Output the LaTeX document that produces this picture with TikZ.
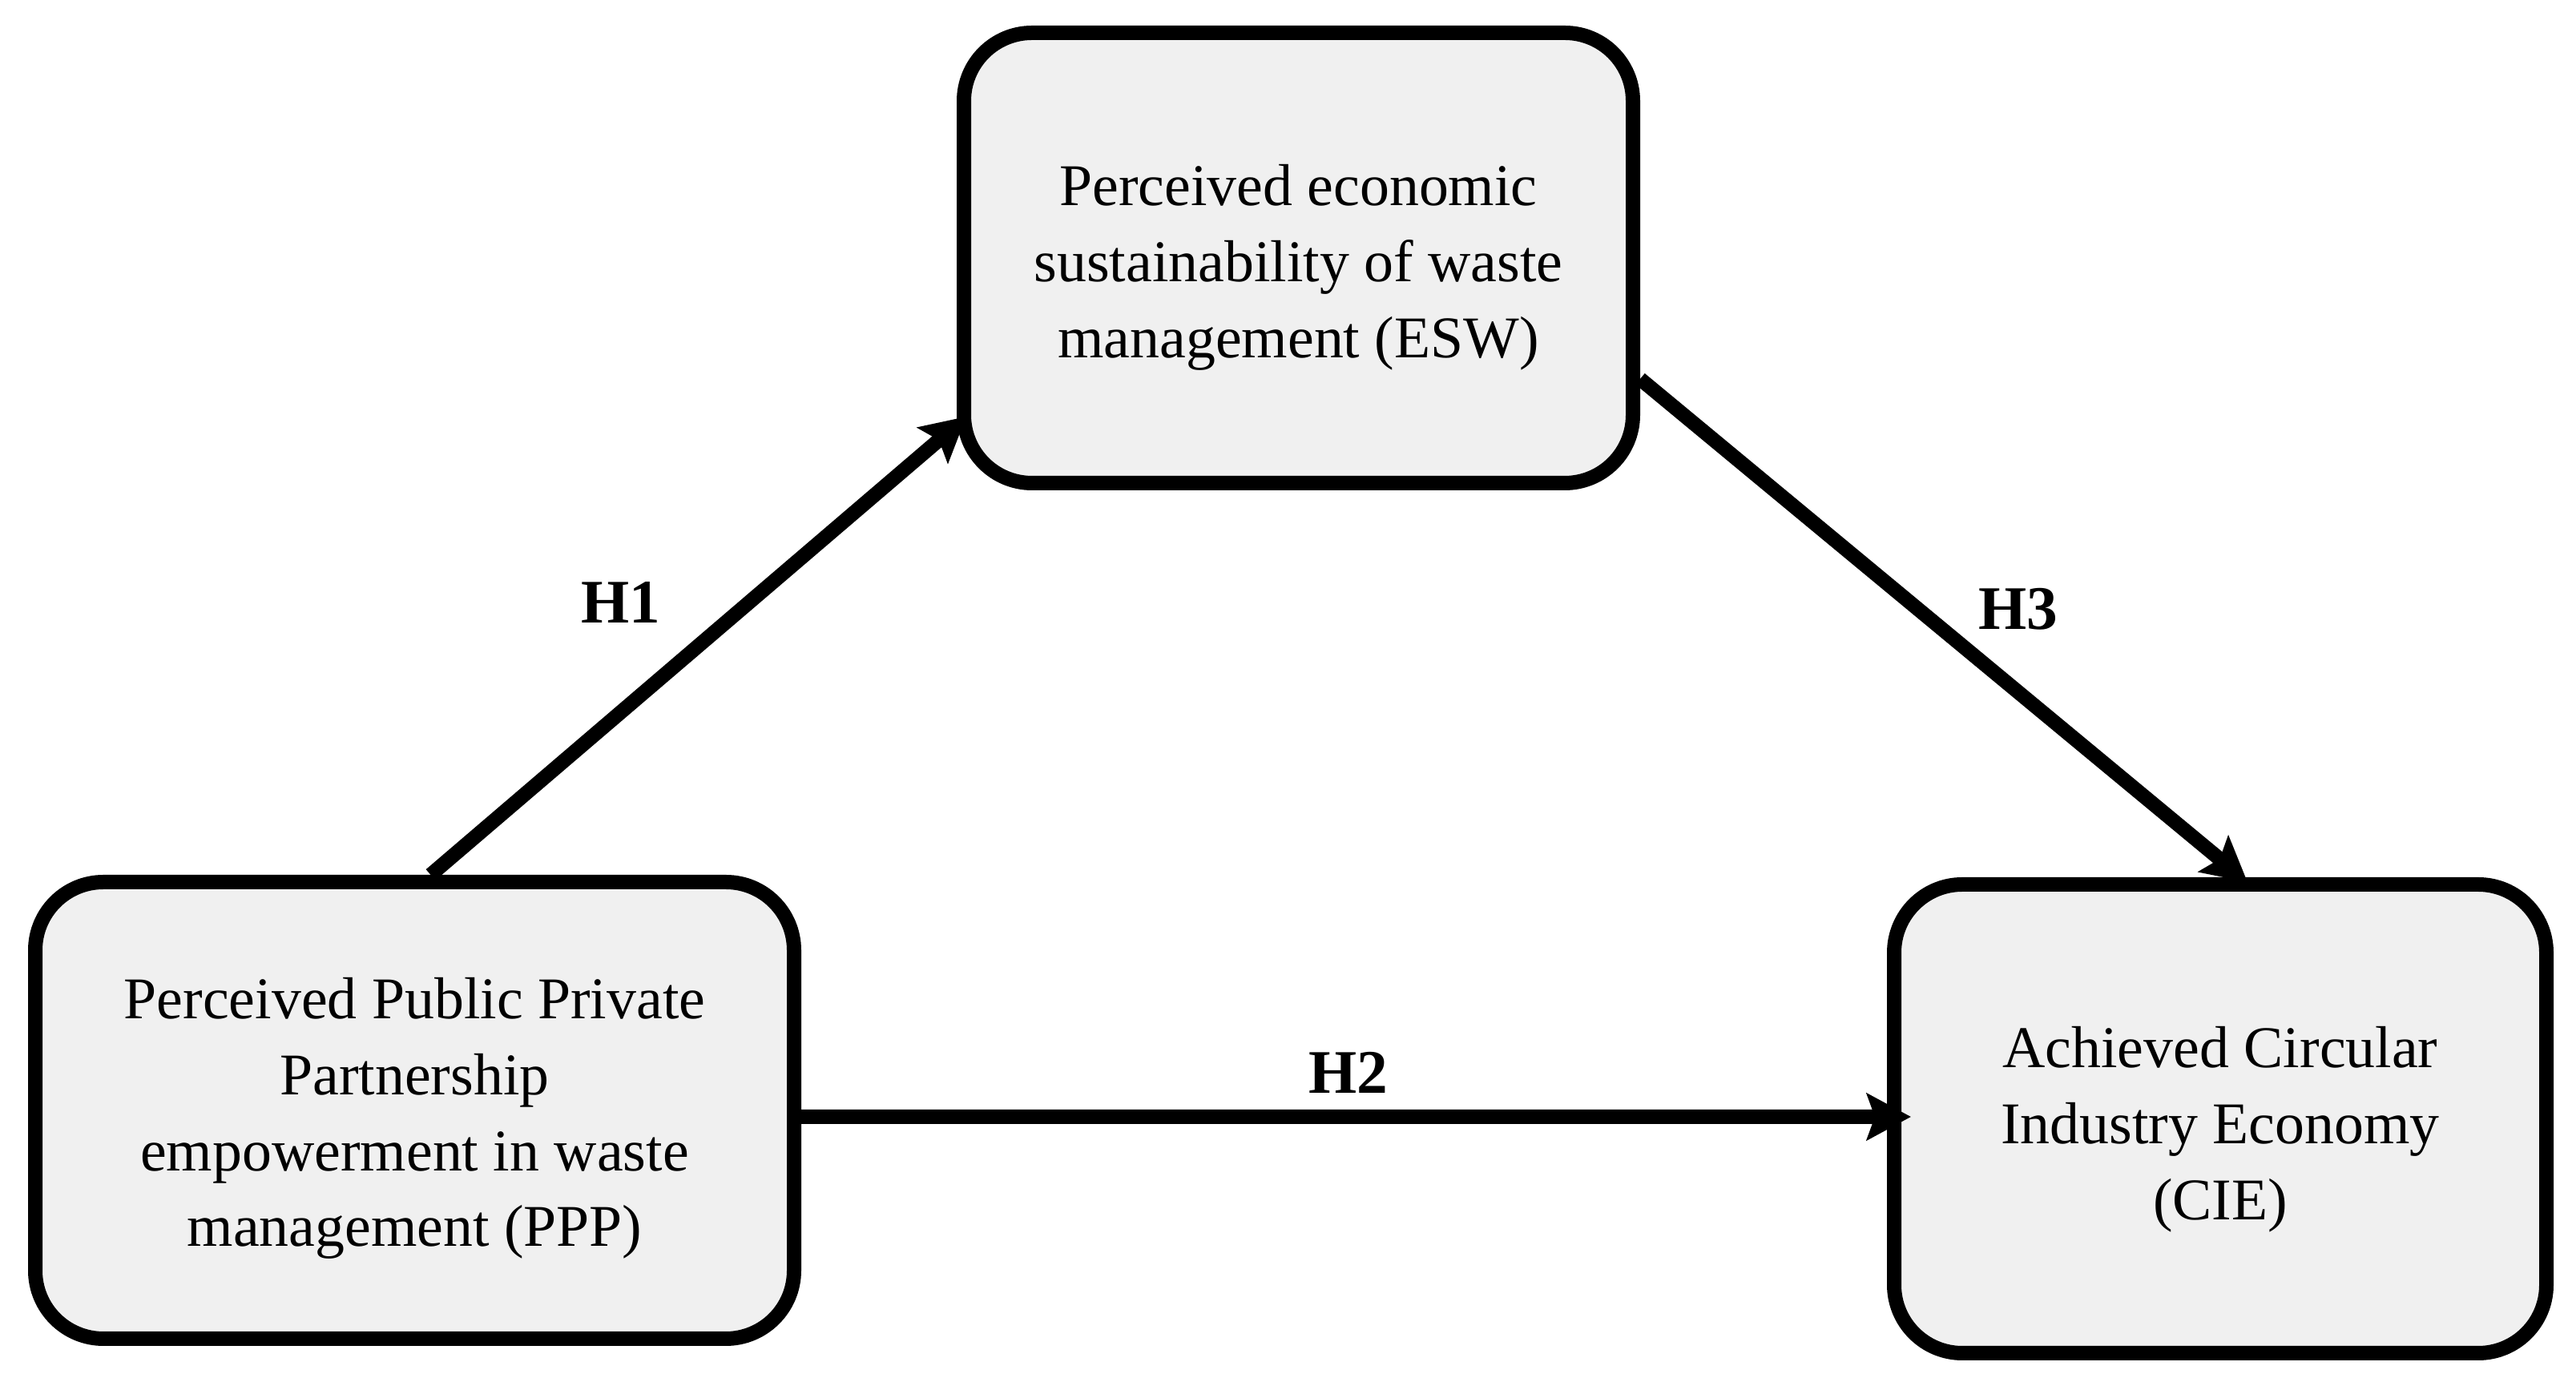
\documentclass[tikz,border=0pt]{standalone}
\usepackage{fontspec}
\setmainfont{Liberation Serif}
\usetikzlibrary{arrows.meta}
\definecolor{boxfill}{HTML}{F0F0F0}
\tikzset{
  conceptbox/.style={draw=black, fill=boxfill, line width=0.18cm, rounded corners=0.85cm, inner sep=0pt},
  boxtext/.style={align=center, inner sep=0pt, font=\fontsize{21}{27}\selectfont},
  hypo/.style={font=\fontsize{22}{26}\selectfont\bfseries, inner sep=0pt},
  link/.style={line width=0.18cm, -{Stealth[length=0.55cm, width=0.58cm, inset=0.1cm]}}
}
\begin{document}
\begin{tikzpicture}
\useasboundingbox (0,0) rectangle (32.15,17.35);
\node[conceptbox, minimum width=8.35cm, minimum height=5.62cm] (esw) at (16.205,14.13) {};
\node[conceptbox, minimum width=9.47cm, minimum height=5.70cm] (ppp) at (5.175,3.49) {};
\node[conceptbox, minimum width=8.14cm, minimum height=5.85cm] (cie) at (27.71,3.385) {};
\node[boxtext] (eswtext) at ([yshift=-0.12cm]esw.center)
  {Perceived economic\\sustainability of waste\\management (ESW)};
\node[boxtext] (ppptext) at ([yshift=-0.1cm]ppp.center)
  {Perceived Public Private\\Partnership\\empowerment in waste\\management (PPP)};
\node[boxtext] (cietext) at ([yshift=-0.13cm]cie.center)
  {Achieved Circular\\Industry Economy\\(CIE)};
\draw[link] ([xshift=0.2cm]ppp.north) -- ([yshift=-1.98cm, xshift=0.12cm]esw.west);
\draw[link] ([yshift=-1.51cm]esw.east) -- ([xshift=0.34cm, yshift=-0.06cm]cie.north);
\draw[link] ([yshift=-0.08cm]ppp.east) -- ([xshift=0.3cm, yshift=0.025cm]cie.west);
\node[hypo] (h1) at (7.75,9.83) {H1};
\node[hypo] (h3) at (25.19,9.75) {H3};
\node[hypo] (h2) at (16.83,3.96) {H2};
\end{tikzpicture}
\end{document}
